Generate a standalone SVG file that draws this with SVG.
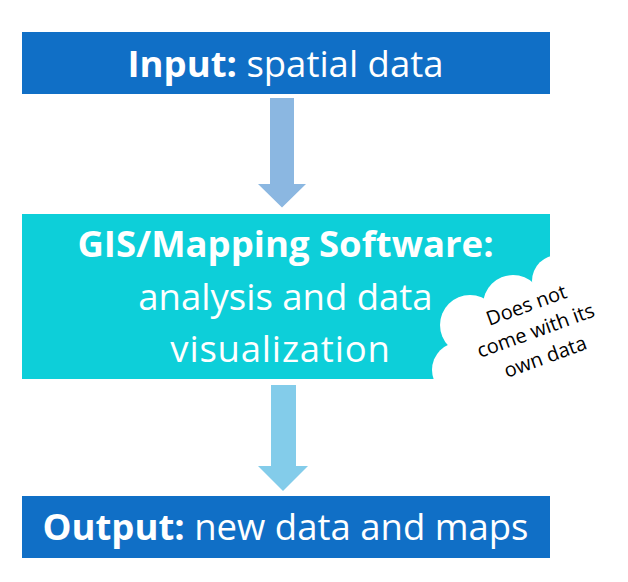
<svg xmlns="http://www.w3.org/2000/svg" width="628" height="582" viewBox="0 0 628 582">
  <style>
    .t { font-family: "Open Sans", "Noto Sans", sans-serif; fill: #ffffff; font-size: 36.5px; }
    .b { font-weight: bold; }
    .n { font-weight: normal; }
    .c { font-family: "Open Sans", "Noto Sans", sans-serif; fill: #000000; font-size: 20px; }
  </style>
  <rect width="628" height="582" fill="#ffffff"/>
  <g id="connectors">
    <polygon id="arrow1" points="270,98 294,98 294,184 306,184 282,207.5 258,184 270,184" fill="#8BB7E1"/>
    <polygon id="arrow2" points="271,385 296,385 296,466 308,466 283,491 258,466 271,466" fill="#83CCEA"/>
  </g>
  <g id="input">
    <rect x="22" y="32" width="528" height="62" fill="#106FC6"/>
    <text class="t" x="285.5" y="77" text-anchor="middle"><tspan class="b">Input:</tspan><tspan class="n"> spatial data</tspan></text>
  </g>
  <g id="software">
    <rect x="22" y="214" width="528" height="165" fill="#0DCFD9"/>
    <text class="t b" x="285.5" y="257" text-anchor="middle">GIS/Mapping Software:</text>
    <text class="t" x="285.5" y="310" text-anchor="middle">analysis and data</text>
    <text class="t" x="280.5" y="362" text-anchor="middle" letter-spacing="0.8">visualization</text>
  </g>
  <g id="cloud">
    <g fill="#ffffff">
      <circle cx="558" cy="281" r="26"/>
      <circle cx="513" cy="305" r="30"/>
      <circle cx="470" cy="325" r="30"/>
      <circle cx="460" cy="370" r="28"/>
      <circle cx="560" cy="345" r="65"/>
      <rect x="480" y="320" width="148" height="80"/>
    </g>
    <g transform="translate(538,337) rotate(-20)">
      <text class="c" x="0" y="-27" text-anchor="middle">Does not</text>
      <text class="c" x="0" y="0" text-anchor="middle">come with its</text>
      <text class="c" x="0" y="28" text-anchor="middle">own data</text>
    </g>
  </g>
  <g id="output">
    <rect x="22" y="496" width="528" height="62" fill="#106FC6"/>
    <text class="t" x="285.5" y="540" text-anchor="middle"><tspan class="b">Output:</tspan><tspan class="n"> new data and maps</tspan></text>
  </g>
</svg>
